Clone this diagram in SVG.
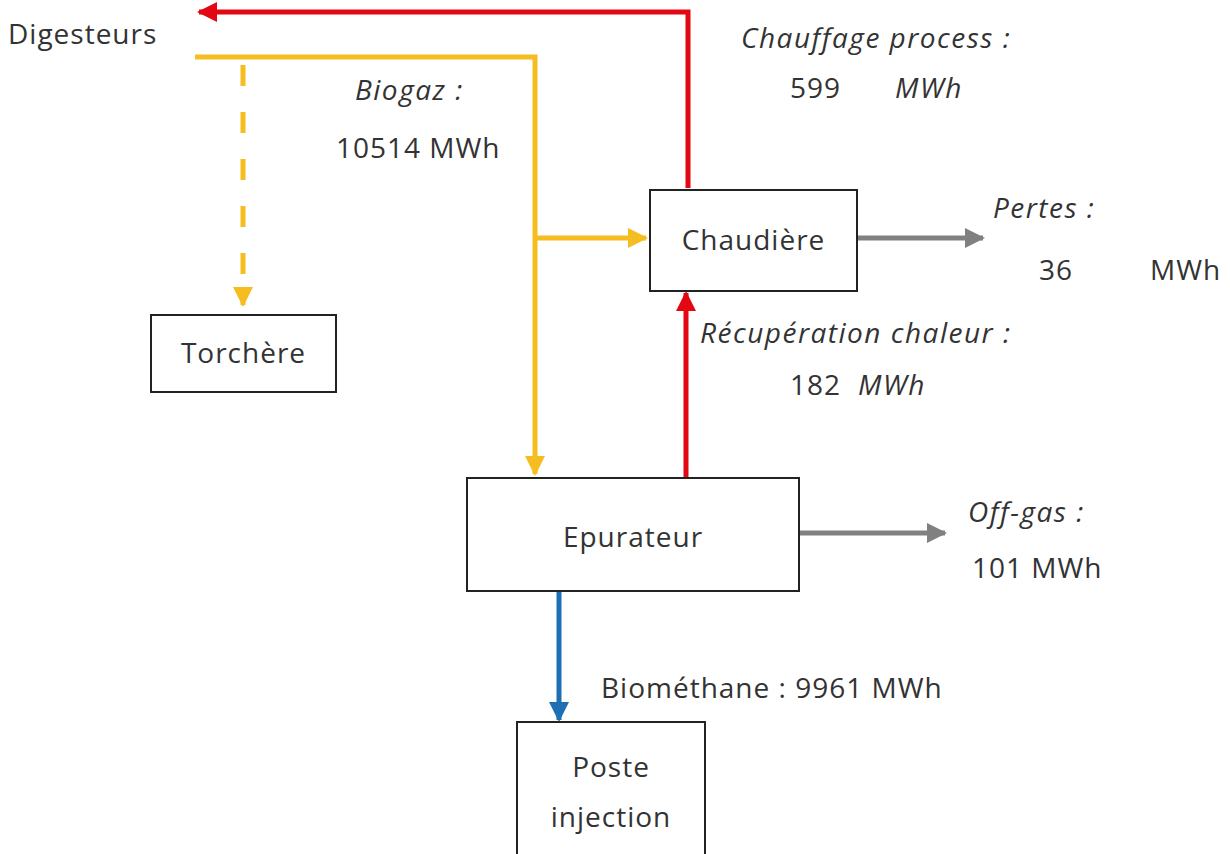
<svg xmlns="http://www.w3.org/2000/svg" width="1230" height="854" viewBox="0 0 1230 854">
<defs>
<style>
text{font-family:"Open Sans","Liberation Sans",sans-serif;font-size:28px;fill:#333;letter-spacing:1px}
.it{font-style:italic;letter-spacing:1.5px}
.box{fill:#fff;stroke:#222;stroke-width:2}
.c{fill:none;stroke-width:5}
</style>
<marker id="ar" viewBox="0 0 10 10" refX="9" refY="5" markerWidth="4" markerHeight="4" orient="auto" markerUnits="strokeWidth"><path d="M0,0L10,5L0,10z" fill="#e30613"/></marker>
<marker id="ay" viewBox="0 0 10 10" refX="9" refY="5" markerWidth="4" markerHeight="4" orient="auto" markerUnits="strokeWidth"><path d="M0,0L10,5L0,10z" fill="#f5bd1f"/></marker>
<marker id="ag" viewBox="0 0 10 10" refX="9" refY="5" markerWidth="4" markerHeight="4" orient="auto" markerUnits="strokeWidth"><path d="M0,0L10,5L0,10z" fill="#808080"/></marker>
<marker id="ab" viewBox="0 0 10 10" refX="9" refY="5" markerWidth="4" markerHeight="4" orient="auto" markerUnits="strokeWidth"><path d="M0,0L10,5L0,10z" fill="#1f6fb4"/></marker>
</defs>
<g id="connectors">
<polyline class="c" points="688,188 688,12 199,12" stroke="#e30613" marker-end="url(#ar)"/>
<polyline class="c" points="195,57 535,57 535,474" stroke="#f5bd1f" marker-end="url(#ay)"/>
<line class="c" x1="243" y1="65" x2="243" y2="305" stroke="#f5bd1f" stroke-dasharray="21,26" marker-end="url(#ay)"/>
<line class="c" x1="535" y1="238" x2="646" y2="238" stroke="#f5bd1f" marker-end="url(#ay)"/>
<line class="c" x1="857" y1="238" x2="983" y2="238" stroke="#808080" marker-end="url(#ag)"/>
<line class="c" x1="686" y1="477" x2="686" y2="293" stroke="#e30613" marker-end="url(#ar)"/>
<line class="c" x1="799" y1="533" x2="945" y2="533" stroke="#808080" marker-end="url(#ag)"/>
<line class="c" x1="559" y1="591" x2="559" y2="720" stroke="#1f6fb4" marker-end="url(#ab)"/>
</g>
<g id="digesteurs"><text x="8" y="44">Digesteurs</text></g>
<g id="torchere"><rect class="box" x="151" y="315" width="185" height="77"/><text x="243.5" y="363" text-anchor="middle">Torchère</text></g>
<g id="chaudiere"><rect class="box" x="650" y="190" width="207" height="101"/><text x="753.5" y="250" text-anchor="middle">Chaudière</text></g>
<g id="epurateur"><rect class="box" x="467" y="478" width="332" height="113"/><text x="633" y="547" text-anchor="middle">Epurateur</text></g>
<g id="poste"><rect class="box" x="517" y="722" width="188" height="140"/><text x="611" y="777" text-anchor="middle">Poste</text><text x="611" y="827" text-anchor="middle">injection</text></g>
<g id="labels">
<text class="it" x="355" y="100">Biogaz :</text>
<text x="336" y="158">10514 MWh</text>
<text class="it" x="741" y="48">Chauffage process :</text>
<text x="790" y="98">599</text>
<text class="it" x="895" y="98">MWh</text>
<text class="it" x="993" y="218">Pertes :</text>
<text x="1039" y="280">36</text>
<text x="1150" y="280">MWh</text>
<text class="it" x="700" y="343">Récupération chaleur :</text>
<text x="790" y="395">182</text>
<text class="it" x="858" y="395">MWh</text>
<text class="it" x="968" y="522">Off-gas :</text>
<text x="972" y="578">101 MWh</text>
<text x="601" y="698">Biométhane : 9961 MWh</text>
</g>
</svg>
